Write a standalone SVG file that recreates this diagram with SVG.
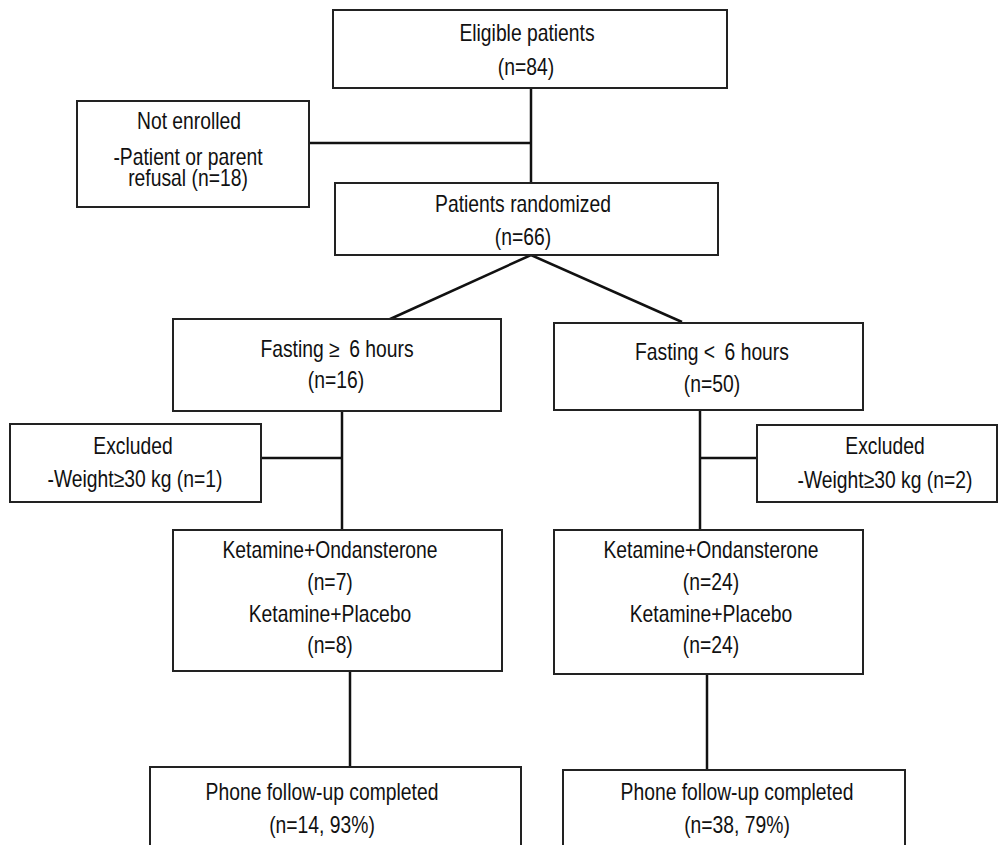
<svg xmlns="http://www.w3.org/2000/svg" width="1005" height="845" viewBox="0 0 1005 845">
<style>
.box{fill:#fff;stroke:#222;stroke-width:2}
.t{font-family:"Liberation Sans",Arial,sans-serif;font-size:23px;fill:#111;text-anchor:middle}
.c{stroke:#111;stroke-width:2.5;fill:none}
</style>
<rect width="1005" height="845" fill="#fff"/>
<g id="connectors">
<line class="c" x1="531" y1="88" x2="531" y2="183"/>
<line class="c" x1="309" y1="143" x2="531" y2="143"/>
<line class="c" x1="531" y1="255" x2="388" y2="320"/>
<line class="c" x1="531" y1="255" x2="682" y2="322"/>
<line class="c" x1="342" y1="411" x2="342" y2="530"/>
<line class="c" x1="261" y1="458" x2="342" y2="458"/>
<line class="c" x1="700" y1="410" x2="700" y2="530"/>
<line class="c" x1="700" y1="458" x2="757" y2="458"/>
<line class="c" x1="350" y1="671" x2="350" y2="767"/>
<line class="c" x1="707" y1="674" x2="707" y2="770"/>
</g>
<g id="eligible">
<rect class="box" x="333" y="10" width="394" height="78"/>
<text class="t" transform="translate(527,41) scale(0.84,1)">Eligible patients</text>
<text class="t" transform="translate(526,75) scale(0.84,1)">(n=84)</text>
</g>
<g id="not-enrolled">
<rect class="box" x="77" y="101" width="232" height="106"/>
<text class="t" transform="translate(189,129) scale(0.84,1)">Not enrolled</text>
<text class="t" transform="translate(188,165) scale(0.84,1)"><tspan x="0" y="0">-Patient or parent</tspan><tspan x="0" y="21">refusal (n=18)</tspan></text>
</g>
<g id="randomized">
<rect class="box" x="335" y="183" width="383" height="72"/>
<text class="t" transform="translate(523,212) scale(0.84,1)">Patients randomized</text>
<text class="t" transform="translate(523,245) scale(0.84,1)">(n=66)</text>
</g>
<g id="fasting-ge6">
<rect class="box" x="173" y="319" width="328" height="92"/>
<text class="t" transform="translate(337,357) scale(0.84,1)">Fasting ≥ <tspan dx="5">6 hours</tspan></text>
<text class="t" transform="translate(336,388) scale(0.84,1)">(n=16)</text>
</g>
<g id="fasting-lt6">
<rect class="box" x="554" y="323" width="309" height="87"/>
<text class="t" transform="translate(712,360) scale(0.84,1)">Fasting &lt; <tspan dx="5">6 hours</tspan></text>
<text class="t" transform="translate(712,392) scale(0.84,1)">(n=50)</text>
</g>
<g id="excluded-left">
<rect class="box" x="10" y="424" width="251" height="78"/>
<text class="t" transform="translate(133,454) scale(0.84,1)">Excluded</text>
<text class="t" transform="translate(135,487) scale(0.84,1)">-Weight≥30 kg (n=1)</text>
</g>
<g id="excluded-right">
<rect class="box" x="757" y="425" width="240" height="77"/>
<text class="t" transform="translate(885,454) scale(0.84,1)">Excluded</text>
<text class="t" transform="translate(885,488) scale(0.84,1)">-Weight≥30 kg (n=2)</text>
</g>
<g id="groups-left">
<rect class="box" x="173" y="530" width="329" height="141"/>
<text class="t" transform="translate(330,558) scale(0.84,1)">Ketamine+Ondansterone</text>
<text class="t" transform="translate(330,590) scale(0.84,1)">(n=7)</text>
<text class="t" transform="translate(330,622) scale(0.84,1)">Ketamine+Placebo</text>
<text class="t" transform="translate(330,653) scale(0.84,1)">(n=8)</text>
</g>
<g id="groups-right">
<rect class="box" x="554" y="530" width="309" height="144"/>
<text class="t" transform="translate(711,558) scale(0.84,1)">Ketamine+Ondansterone</text>
<text class="t" transform="translate(711,590) scale(0.84,1)">(n=24)</text>
<text class="t" transform="translate(711,622) scale(0.84,1)">Ketamine+Placebo</text>
<text class="t" transform="translate(711,653) scale(0.84,1)">(n=24)</text>
</g>
<g id="followup-left">
<rect class="box" x="150" y="767" width="371" height="100"/>
<text class="t" transform="translate(322,800) scale(0.84,1)">Phone follow-up completed</text>
<text class="t" transform="translate(322,833) scale(0.84,1)">(n=14, 93%)</text>
</g>
<g id="followup-right">
<rect class="box" x="563" y="770" width="342" height="100"/>
<text class="t" transform="translate(737,800) scale(0.84,1)">Phone follow-up completed</text>
<text class="t" transform="translate(737,833) scale(0.84,1)">(n=38, 79%)</text>
</g>
</svg>
